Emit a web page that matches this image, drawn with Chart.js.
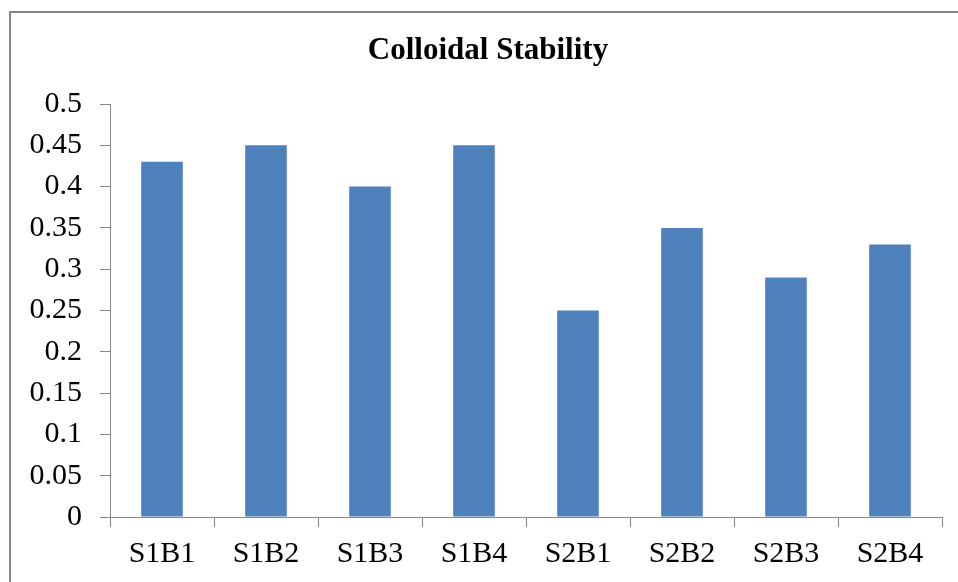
<!DOCTYPE html>
<html>
<head>
<meta charset="utf-8">
<script src="https://cdn.jsdelivr.net/npm/chart.js@4/dist/chart.umd.min.js"></script>
<style>
  html, body { margin: 0; padding: 0; background: #ffffff; }
  #wrap { position: relative; width: 958px; height: 582px; overflow: hidden; }
  #frame {
    position: absolute; left: 9px; top: 11px; width: 958px; height: 700px;
    border-left: 2px solid #868686; border-top: 2px solid #868686;
    box-sizing: border-box;
  }
  #chart { position: absolute; left: 0; top: 0; }
</style>
</head>
<body>
<div id="wrap">
  <div id="frame"></div>
  <canvas id="chart" width="958" height="582"></canvas>
</div>
<script>
// Samples and their colloidal stability readings
const categories = ['S1B1', 'S1B2', 'S1B3', 'S1B4', 'S2B1', 'S2B2', 'S2B3', 'S2B4'];
const stability = [0.43, 0.45, 0.40, 0.45, 0.25, 0.35, 0.29, 0.33];
const yTickLabels = ['0', '0.05', '0.1', '0.15', '0.2', '0.25', '0.3', '0.35', '0.4', '0.45', '0.5'];
const chartTitle = 'Colloidal Stability';

const axisGray = '#868686';
const serif = "'Liberation Serif', 'Times New Roman', serif";

// The panel outline starts at x=9 and is one canvas wide; the title sits at its centre.
const panelLeft = 9;
const panelWidth = 958;

const panelTitle = {
  id: 'panelTitle',
  afterDraw(chart) {
    const ctx = chart.ctx;
    ctx.save();
    ctx.fillStyle = '#000000';
    ctx.font = 'bold 31px ' + serif;
    ctx.textAlign = 'center';
    ctx.textBaseline = 'middle';
    ctx.fillText(chartTitle, panelLeft + panelWidth / 2, 50.6);
    ctx.restore();
  }
};

new Chart(document.getElementById('chart'), {
  type: 'bar',
  data: {
    labels: categories,
    datasets: [{
      label: chartTitle,
      data: stability,
      backgroundColor: '#4F81BD',
      borderWidth: 0,
      barPercentage: 0.4,
      categoryPercentage: 1.0
    }]
  },
  plugins: [panelTitle],
  options: {
    responsive: false,
    animation: false,
    layout: { padding: { left: 0, right: 16, top: 104, bottom: 0 } },
    plugins: {
      legend: { display: false },
      tooltip: { enabled: false },
      title: { display: false }
    },
    scales: {
      x: {
        offset: true,
        grid: {
          offset: true,
          drawOnChartArea: false,
          drawTicks: true,
          tickLength: 10,
          color: axisGray,
          lineWidth: 1
        },
        border: { color: axisGray, width: 1 },
        ticks: {
          color: '#000000',
          font: { family: serif, size: 30, lineHeight: 1.2 },
          padding: 9,
          maxRotation: 0,
          autoSkip: false
        },
        afterFit(scale) { scale.height = 65; }
      },
      y: {
        min: 0,
        max: 0.5,
        grid: {
          drawOnChartArea: false,
          drawTicks: true,
          tickLength: 10,
          color: axisGray,
          lineWidth: 1
        },
        border: { color: axisGray, width: 1 },
        ticks: {
          stepSize: 0.05,
          color: '#000000',
          font: { family: serif, size: 30, lineHeight: 1.2 },
          padding: 18,
          callback: (value, index) => yTickLabels[index]
        },
        afterFit(scale) { scale.width = 110; }
      }
    }
  }
});
</script>
</body>
</html>
